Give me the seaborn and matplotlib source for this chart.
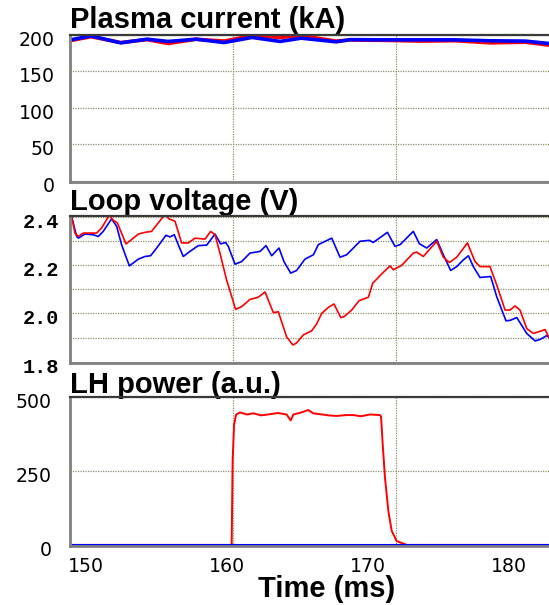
import matplotlib
matplotlib.use("Agg")
import matplotlib.pyplot as plt
import seaborn as sns
import pandas as pd
from matplotlib.transforms import ScaledTranslation

# ---------------- data ----------------
ip_time = [148.96, 150.33, 152.44, 154.31, 155.80, 157.79, 159.77, 161.76, 163.75,
           165.24, 167.72, 168.72, 171.21, 173.69, 176.17, 178.66, 181.14, 182.83]
ip_blue = [193, 198, 188.6, 193.6, 190.5, 193.6, 189, 196, 190.5,
           195, 190, 193, 192.7, 192.7, 192.7, 191.4, 191, 187.7]
ip_red = [192, 197, 189, 193, 187.7, 193.5, 191, 198.5, 196,
          198.5, 191, 192.5, 192, 191, 191.5, 188.6, 189.5, 185.5]

vl_blue_t = [148.95, 149.31, 149.43, 149.90, 150.49, 150.85, 151.20, 151.79, 152.15, 152.50,
             153.05, 153.69, 154.16, 154.56, 154.99, 155.65, 155.93, 156.24, 156.57, 156.88,
             157.35, 157.94, 158.54, 159.13, 159.53, 159.88, 160.07, 160.55, 161.02, 161.61,
             162.32, 162.75, 163.15, 163.67, 164.02, 164.50, 164.92, 165.51, 166.11, 166.46,
             167.41, 168.00, 168.47, 169.42, 170.08, 170.36, 171.36, 171.90, 172.26, 173.20,
             173.63, 174.15, 174.86, 175.33, 175.85, 176.28, 176.75, 177.11, 177.46, 177.93,
             178.69, 179.12, 179.78, 180.11, 180.54, 181.25, 181.84, 182.19, 182.67, 182.83]
vl_blue = [2.403, 2.319, 2.312, 2.329, 2.326, 2.319, 2.340, 2.392, 2.361, 2.285,
           2.197, 2.225, 2.236, 2.239, 2.271, 2.324, 2.317, 2.326, 2.278, 2.236,
           2.257, 2.281, 2.283, 2.329, 2.288, 2.294, 2.278, 2.204, 2.215, 2.250,
           2.257, 2.281, 2.239, 2.271, 2.215, 2.167, 2.178, 2.225, 2.243, 2.285,
           2.312, 2.233, 2.243, 2.299, 2.303, 2.294, 2.336, 2.278, 2.285, 2.340,
           2.289, 2.271, 2.306, 2.243, 2.178, 2.194, 2.222, 2.239, 2.194, 2.149,
           2.153, 2.069, 1.969, 1.972, 1.983, 1.917, 1.886, 1.892, 1.908, 1.900]

vl_red_t = [148.95, 149.19, 149.43, 149.78, 150.26, 150.73, 151.08, 151.63, 151.91, 152.20,
            152.81, 153.21, 153.69, 154.16, 154.63, 155.10, 155.58, 155.86, 156.29, 156.76,
            157.23, 157.71, 158.42, 158.82, 159.13, 159.48, 159.95, 160.59, 161.02, 161.61,
            162.20, 162.68, 163.27, 163.62, 164.21, 164.66, 164.92, 165.40, 165.99, 166.34,
            166.70, 167.17, 167.57, 168.05, 168.28, 168.83, 169.35, 170.01, 170.32, 170.96,
            171.55, 171.78, 172.37, 173.20, 173.44, 173.91, 174.86, 175.33, 175.76, 176.28,
            177.04, 177.58, 177.93, 178.64, 179.12, 179.71, 180.06, 180.42, 180.77, 181.25,
            181.72, 182.55, 182.83]
vl_red = [2.403, 2.333, 2.319, 2.333, 2.333, 2.333, 2.354, 2.407, 2.386, 2.375,
          2.288, 2.306, 2.329, 2.336, 2.340, 2.375, 2.410, 2.392, 2.382, 2.292,
          2.292, 2.312, 2.308, 2.340, 2.326, 2.250, 2.139, 2.017, 2.028, 2.058,
          2.067, 2.089, 2.003, 2.007, 1.903, 1.869, 1.878, 1.911, 1.928, 1.956,
          2.000, 2.025, 2.039, 1.983, 1.986, 2.014, 2.053, 2.067, 2.125, 2.164,
          2.197, 2.181, 2.199, 2.250, 2.254, 2.236, 2.299, 2.233, 2.211, 2.233,
          2.292, 2.215, 2.194, 2.194, 2.118, 2.014, 2.014, 2.031, 2.014, 1.937,
          1.917, 1.933, 1.900]

lh_red_t = [148.9, 160.31, 160.38, 160.48, 160.62, 160.90, 161.40, 161.85, 162.40, 163.03,
            163.60, 164.21, 164.50, 164.69, 165.20, 165.75, 166.10, 166.58, 167.20, 167.76,
            168.40, 168.95, 169.50, 170.13, 170.84, 170.91, 171.03, 171.19, 171.43, 171.67,
            172.02, 172.73, 183.0]
lh_red = [0, 0, 282, 405, 439, 447, 440, 444, 437, 441,
          445, 440, 420, 440, 446, 455, 444, 441, 437, 435,
          438, 438, 434, 440, 438, 433, 338, 227, 114, 47,
          13, 0, 0]
lh_blue_t = [148.9, 183.0]
lh_blue = [0, 0]

x_ticks = [150, 160, 170, 180]
x_grid = [160.4, 172.0]
titles = ["Plasma current (kA)", "Loop voltage (V)", "LH power (a.u.)"]
xlabel = "Time (ms)"

# ---------------- style ----------------
sns.set_theme(style="white")
plt.rcParams["font.family"] = ["DejaVu Sans"]

W, H = 549, 605
fig = plt.figure(figsize=(W / 100, H / 100), dpi=100)

def make_axes(top, bottom, left=70, right=551):
    return fig.add_axes([left / W, 1 - bottom / H, (right - left) / W, (bottom - top) / H])

ax1 = make_axes(34.5, 181.7)
ax2 = make_axes(215.7, 363.0)
ax3 = make_axes(396.7, 545.5)

GRID = dict(color="#8f8f6a", linestyle=(0, (1, 1)), linewidth=0.9)
RED, BLUE = "#ff0000", "#0000ff"
XLIM = (148.84, 182.97)

def line(ax, x, y, color, lw):
    sns.lineplot(x=x, y=y, color=color, linewidth=lw, ax=ax, estimator=None,
                 sort=False, legend=False)

line(ax1, ip_time, ip_red, RED, 2.6)
line(ax1, ip_time, ip_blue, BLUE, 2.6)
line(ax2, vl_blue_t, vl_blue, BLUE, 1.2)
line(ax2, vl_red_t, vl_red, RED, 1.2)
line(ax3, lh_red_t, lh_red, RED, 1.4)
line(ax3, lh_blue_t, lh_blue, BLUE, 2.2)

tick_font = dict(family="DejaVu Sans", size=13.6, color="black")
mono_font = dict(family="Liberation Mono", weight="bold", size=14.5, color="black")

def shift_down(ax, px):
    off = ScaledTranslation(0, -px / 100, fig.dpi_scale_trans)
    for lab in ax.get_yticklabels():
        lab.set_transform(lab.get_transform() + off)

specs = [
    (ax1, (-1, 200), [0, 50, 100, 150, 200], [], ["0", "50", "100", "150", "200"], tick_font, 10.8),
    (ax2, (1.7945, 2.405), [1.8, 2.0, 2.2, 2.4], [1.9, 2.1, 2.3], ["1.8", "2.0", "2.2", "2.4"], mono_font, 7.9),
    (ax3, (-2, 500), [0, 250, 500], [], ["0", "250", "500"], tick_font, 13.0),
]
for ax, ylim, yt, ymt, ylabs, font, pad in specs:
    ax.set_xlim(*XLIM)
    ax.set_ylim(*ylim)
    ax.set_xticks(x_ticks)
    ax.set_xticks(x_grid, minor=True)
    ax.set_yticks(yt)
    ax.set_yticks(ymt, minor=True)
    ax.set_yticklabels(ylabs, fontdict=font)
    ax.set_xlabel("")
    ax.set_ylabel("")
    ax.grid(False)
    ax.xaxis.grid(True, which="minor", **GRID)
    ax.yaxis.grid(True, which="both", **GRID)
    ax.set_axisbelow(True)
    ax.tick_params(axis="both", which="both", length=0)
    ax.tick_params(axis="y", pad=pad)
    ax.set_facecolor("white")
    for s in ("left", "bottom"):
        ax.spines[s].set_color("#808080")
        ax.spines[s].set_linewidth(2.0)
    ax.spines["top"].set_color("#3a3a3a")
    ax.spines["top"].set_linewidth(1.6)
    ax.spines["right"].set_visible(False)
    for s in ax.spines.values():
        s.set_zorder(5)
    shift_down(ax, 3.5)

for ax in (ax1, ax2):
    ax.tick_params(axis="x", labelbottom=False)

ax3.set_xticklabels([str(v) for v in x_ticks], fontdict=tick_font)
ax3.tick_params(axis="x", pad=8)

title_font = dict(family="Liberation Sans", weight="bold", size=21, color="black")
for ax, t in zip((ax1, ax2, ax3), titles):
    ax.set_title(t, loc="left", pad=2.5, fontdict=title_font)

ax3.set_xlabel(xlabel, fontdict=title_font)
ax3.xaxis.set_label_coords((326.5 - 70) / 481, -(597 - 545.5) / 148.8)
ax3.xaxis.label.set_verticalalignment("baseline")

fig.savefig("out.png", dpi=100, facecolor="white")
